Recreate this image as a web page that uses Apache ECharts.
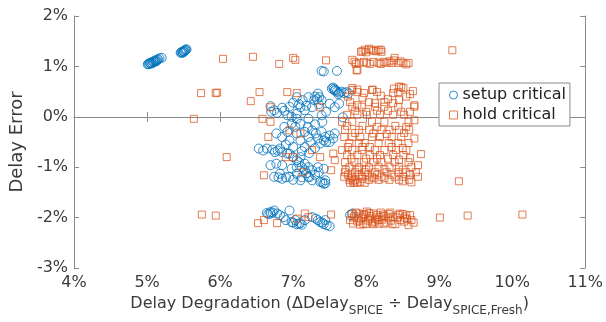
<!DOCTYPE html>
<html>
<head>
<meta charset="utf-8">
<script src="https://cdn.jsdelivr.net/npm/echarts@6/dist/echarts.min.js"></script>
<style>
  html, body { margin: 0; padding: 0; background: #fff; }
  #chart { width: 606px; height: 322px; }
</style>
</head>
<body>
<div id="chart"></div>
<script>
// [delay degradation %, delay error %]
const setupCritical = [
  [5.01, 1.04], [5.03, 1.05], [5.04, 1.07], [5.06, 1.08], [5.07, 1.06], [5.09, 1.1],
  [5.11, 1.12], [5.13, 1.11], [5.15, 1.14], [5.17, 1.16], [5.2, 1.17], [5.1, 1.09],
  [5.02, 1.05], [5.05, 1.06], [5.08, 1.09], [5.12, 1.1], [5.14, 1.13],
  [5.46, 1.27], [5.48, 1.29], [5.5, 1.3], [5.52, 1.32], [5.54, 1.34], [5.49, 1.27], [5.51, 1.31],
  [5.47, 1.28], [5.5, 1.29], [5.53, 1.33],
  [7.39, 0.91], [7.42, 0.9], [7.6, 0.91],
  [7.53, 0.56], [7.56, 0.55], [7.58, 0.53], [7.6, 0.5], [7.63, 0.48], [7.66, 0.5],
  [7.7, 0.47], [7.73, 0.49], [7.55, 0.58], [7.62, 0.45], [7.76, 0.47], [7.57, 0.52],
  [6.69, 0.21], [6.74, 0.13], [6.85, 0.18], [6.92, 0.03], [7.05, 0.39], [7.13, 0.33],
  [7.21, 0.39], [7.29, 0.33], [7.34, 0.46], [7.36, 0.39], [7.39, 0.33], [7.26, 0.19],
  [7.16, 0.13], [7.1, 0.19], [7.05, 0.06], [6.98, 0.0], [7.21, -0.04], [7.39, 0.03],
  [7.57, 0.19], [7.68, -0.01], [7.63, 0.26], [7.5, 0.26],
  [6.7, 0.1], [6.78, 0.08], [6.88, 0.12], [6.95, 0.2], [7.0, 0.28], [7.08, 0.25],
  [7.18, 0.22], [7.3, 0.4], [7.33, 0.35], [7.35, 0.25], [7.45, 0.1], [7.4, -0.1],
  [7.3, -0.15], [7.2, -0.2], [6.88, -0.2],
  [6.98, -0.14], [7.03, -0.2], [6.92, -0.3], [6.85, -0.4], [6.77, -0.33], [7.05, -0.33],
  [7.16, -0.3], [7.26, -0.27], [7.31, -0.33], [7.39, -0.3], [7.44, -0.4], [7.5, -0.37],
  [7.42, -0.47], [7.34, -0.43], [7.21, -0.4], [7.1, -0.47], [6.95, -0.47], [7.55, -0.43],
  [7.57, -0.33], [7.24, -0.5], [7.37, -0.53], [7.16, -0.6], [7.05, -0.04], [7.1, -0.14],
  [6.9, -0.55], [7.0, -0.6], [7.12, -0.68], [7.22, -0.72], [7.3, -0.62], [7.45, -0.5], [7.5, -0.5],
  [6.53, -0.63], [6.59, -0.67], [6.64, -0.63], [6.79, -0.67], [6.82, -0.63],
  [6.75, -0.7], [6.72, -0.65], [6.85, -0.7],
  [6.95, -0.73], [7.0, -0.8], [7.05, -0.86], [7.1, -0.8], [7.16, -0.93], [7.21, -1.0],
  [7.26, -1.06], [7.34, -1.0], [7.42, -1.03], [6.69, -0.96], [6.77, -0.93], [6.85, -0.96],
  [6.82, -1.13], [6.74, -1.19], [6.85, -1.23], [6.95, -1.19], [7.05, -1.13], [7.1, -1.26],
  [7.21, -1.19], [7.26, -1.26], [7.37, -1.29], [7.42, -1.33], [7.44, -1.26], [7.16, -1.06],
  [6.98, -1.03], [7.05, -1.0], [6.92, -0.73],
  [7.08, -0.9], [7.12, -1.0], [7.18, -1.12], [7.22, -1.2], [7.3, -1.15], [7.35, -1.1],
  [6.9, -1.2], [6.8, -1.2], [7.0, -1.25], [7.12, -1.2], [7.4, -1.3], [7.44, -1.32],
  [6.64, -1.91], [6.69, -1.92], [6.74, -1.86], [6.82, -1.95], [6.87, -1.99], [6.95, -1.86],
  [6.98, -2.09], [7.05, -2.13], [7.1, -2.11], [7.16, -2.05], [7.03, -2.05], [7.31, -2.02],
  [7.37, -2.09], [7.42, -2.13], [7.5, -2.17], [7.44, -2.05], [7.26, -1.99], [6.69, -1.89],
  [6.78, -1.92], [7.78, -1.95], [7.81, -1.92],
  [6.66, -1.93], [6.72, -1.9], [6.9, -2.05], [7.0, -2.1], [7.08, -2.12], [7.12, -2.14],
  [7.34, -2.05], [7.4, -2.1], [7.46, -2.15]
];

const holdCritical = [
  [5.74, 0.47], [5.94, 0.47], [5.96, 0.48], [5.64, -0.04], [6.09, -0.8], [6.04, 1.15],
  [6.45, 1.19], [6.42, 0.31], [6.54, 0.49], [6.81, 1.05], [7.0, 1.17], [7.03, 1.13],
  [7.45, 1.12], [7.87, 0.92], [9.18, 1.32], [9.27, -1.28], [5.75, -1.94], [5.94, -1.96],
  [9.01, -2.0], [9.39, -1.96], [10.14, -1.94], [6.52, -2.11], [6.6, -2.05], [6.78, -2.11],
  [7.16, -1.92], [7.05, -2.02], [7.21, -1.99], [7.52, -1.94],
  [6.58, -0.04], [6.69, -0.1], [6.66, -0.4], [6.6, -1.16], [6.69, 0.19], [6.92, 0.49],
  [7.05, 0.47], [6.95, -0.27], [6.9, -0.8], [7.0, -0.8], [7.37, -0.8], [7.13, -1.1],
  [7.37, 0.19], [7.55, -0.73], [7.57, -0.86], [7.52, -1.06], [7.26, -0.66], [7.1, -0.33],
  [7.93, 1.29], [7.98, 1.33], [8.04, 1.35], [8.1, 1.31], [8.17, 1.33], [8.21, 1.29],
  [7.95, 1.3], [8.0, 1.28], [8.07, 1.33], [8.14, 1.3], [8.2, 1.33],
  [7.84, 1.09], [7.9, 1.07], [7.97, 1.09], [8.01, 1.07], [8.1, 1.09], [8.17, 1.07],
  [8.24, 1.09], [8.28, 1.07], [8.35, 1.07], [8.39, 1.17], [8.44, 1.07], [8.51, 1.07],
  [8.58, 1.07], [7.88, 0.93], [7.81, 1.13],
  [7.86, 1.05], [8.05, 1.05], [8.2, 1.05], [8.32, 1.1], [8.47, 1.1], [8.55, 1.04], [8.38, 1.12],
  [7.81, 0.57], [7.88, 0.49], [7.97, 0.47], [8.08, 0.53], [8.15, 0.49], [8.37, 0.47],
  [8.44, 0.49], [8.48, 0.59], [8.64, 0.51], [7.78, 0.29], [7.88, 0.23], [8.04, 0.29],
  [8.12, 0.27], [8.25, 0.29], [8.37, 0.27], [8.45, 0.33], [8.66, 0.23],
  [7.81, 0.53], [7.88, 0.54], [8.09, 0.54], [8.38, 0.56], [8.45, 0.6], [8.51, 0.57],
  [7.75, 0.4], [7.95, 0.38], [8.2, 0.42], [8.3, 0.35], [8.55, 0.4], [8.6, 0.45],
  [7.81, 0.2], [7.94, 0.2], [8.12, 0.2], [8.25, 0.2], [8.44, 0.2], [8.66, 0.2],
  [7.85, 0.12], [8.0, 0.1], [8.15, 0.12], [8.3, 0.12], [8.48, 0.1], [8.6, 0.1],
  [7.74, 0.04], [7.88, 0.04], [8.01, 0.04], [8.19, 0.04], [8.37, 0.04], [8.52, 0.04],
  [7.67, -0.1], [7.81, -0.1], [8.08, -0.1], [8.25, -0.1], [8.58, -0.1], [8.66, -0.07],
  [7.74, -0.18], [7.95, -0.18], [8.15, -0.2], [8.4, -0.18], [8.55, -0.2],
  [7.71, -0.26], [7.9, -0.26], [8.04, -0.26], [8.21, -0.26], [8.32, -0.26], [8.45, -0.26], [8.59, -0.26],
  [7.85, -0.32], [8.1, -0.33], [8.28, -0.34], [8.52, -0.32],
  [7.7, -0.4], [7.81, -0.4], [7.92, -0.4], [8.08, -0.4], [8.19, -0.4], [8.35, -0.4], [8.48, -0.4], [8.66, -0.43],
  [7.77, -0.52], [7.9, -0.52], [7.98, -0.52], [8.17, -0.52], [8.31, -0.52], [8.44, -0.52], [8.58, -0.52],
  [7.75, -0.6], [7.95, -0.6], [8.05, -0.6], [8.35, -0.6], [8.5, -0.62],
  [7.67, -0.66], [7.81, -0.66], [7.94, -0.66], [8.12, -0.66], [8.25, -0.66], [8.41, -0.66], [8.55, -0.66], [8.75, -0.74],
  [7.74, -0.76], [7.88, -0.76], [8.05, -0.76], [8.19, -0.76], [8.37, -0.76], [8.51, -0.76],
  [7.8, -0.83], [8.0, -0.83], [8.15, -0.83], [8.3, -0.83], [8.45, -0.85], [8.6, -0.82],
  [7.71, -0.9], [7.84, -0.9], [7.97, -0.9], [8.1, -0.9], [8.21, -0.9], [8.39, -0.9], [8.58, -0.9], [8.71, -0.96],
  [7.77, -1.0], [7.9, -1.0], [8.04, -1.0], [8.17, -1.0], [8.32, -1.0], [8.45, -1.0], [8.62, -1.0],
  [7.72, -1.05], [7.88, -1.05], [8.0, -1.05], [8.25, -1.04], [8.5, -1.05],
  [7.71, -1.1], [7.85, -1.1], [7.98, -1.1], [8.12, -1.1], [8.28, -1.1], [8.44, -1.1], [8.55, -1.1], [8.68, -1.1],
  [7.75, -1.15], [7.9, -1.15], [8.02, -1.15], [8.15, -1.15], [8.35, -1.15], [8.6, -1.15],
  [7.7, -1.19], [7.81, -1.19], [7.94, -1.19], [8.08, -1.19], [8.21, -1.19], [8.39, -1.19], [8.51, -1.19], [8.71, -1.19],
  [7.8, -1.22], [7.95, -1.23], [8.1, -1.22], [8.25, -1.22], [8.5, -1.28], [8.62, -1.3],
  [7.77, -1.25], [7.85, -1.25], [8.04, -1.25], [8.17, -1.25], [8.32, -1.25], [8.45, -1.25], [8.59, -1.25],
  [7.78, -1.31], [7.84, -1.31], [7.88, -1.31], [7.98, -1.31], [7.82, -1.28], [7.92, -1.29],
  [7.8, -1.93], [7.84, -1.97], [7.88, -2.08], [7.9, -1.92], [7.93, -2.02], [7.96, -2.12],
  [7.98, -1.95], [8.01, -1.88], [8.03, -2.06], [8.06, -1.97], [8.08, -2.1], [8.1, -1.92],
  [8.13, -2.02], [8.15, -1.95], [8.17, -2.12], [8.2, -1.9], [8.22, -2.04], [8.25, -1.97],
  [8.28, -2.1], [8.31, -1.93], [8.34, -2.06], [8.37, -1.98], [8.4, -2.13], [8.44, -1.95],
  [8.47, -2.05], [8.5, -1.93], [8.52, -2.08], [8.55, -1.96], [8.58, -2.15], [8.6, -1.95],
  [8.65, -2.1], [7.82, -2.12], [7.86, -1.9], [7.95, -1.98], [8.0, -2.13], [8.12, -2.08],
  [8.18, -1.99], [8.24, -2.12], [8.33, -1.9], [8.42, -2.0], [8.56, -2.03], [7.78, -2.05],
  [7.83, -2.0], [7.9, -2.06], [7.97, -1.93], [8.05, -2.02], [8.1, -2.13], [8.16, -2.05],
  [8.23, -1.94], [8.3, -2.0], [8.36, -2.13], [8.46, -1.92], [8.53, -2.0], [8.62, -2.05],
  [7.92, -2.14], [8.04, -1.91]
];

const xRange = [4, 11];
const yRange = [-3, 2];

const FONT = 'DejaVu Sans';
const axisGrey = '#8a8a8a';
const labelColor = '#3a3a3a';

const chart = echarts.init(document.getElementById('chart'));

// 坐标轴公共部分：MATLAB风格的框和向内的刻度
function boxAxis(extra) {
  return Object.assign({
    type: 'value',
    interval: 1,
    axisLine: { show: true, lineStyle: { color: axisGrey, width: 1 } },
    axisTick: { show: true, inside: true, length: 5, lineStyle: { color: axisGrey } },
    splitLine: { show: false },
    axisLabel: {
      fontFamily: FONT, fontSize: 16, color: labelColor,
      formatter: '{value}%'
    }
  }, extra);
}

const option = {
  animation: false,
  backgroundColor: '#fff',
  grid: { left: 67, right: 19, top: 16, bottom: 54 },
  xAxis: [
    boxAxis({
      min: xRange[0], max: xRange[1], position: 'bottom',
      axisLabel: { fontFamily: FONT, fontSize: 16, color: labelColor, margin: 7, formatter: '{value}%' },
      name: '{a|Delay Degradation (\u0394Delay}{s|SPICE}{a| \u00f7 Delay}{s|SPICE,Fresh}{a|)}',
      nameLocation: 'middle',
      nameGap: 22,
      nameTextStyle: {
        fontFamily: FONT, color: labelColor,
        rich: {
          a: { fontFamily: FONT, fontSize: 16, color: labelColor, verticalAlign: 'top', lineHeight: 18 },
          s: { fontFamily: FONT, fontSize: 12, color: labelColor, verticalAlign: 'top', lineHeight: 14, padding: [9, 0, 0, 0] }
        }
      }
    }),
    boxAxis({ min: xRange[0], max: xRange[1], position: 'top', axisLabel: { show: false } })
  ],
  yAxis: [
    boxAxis({
      min: yRange[0], max: yRange[1], position: 'left',
      axisLabel: { fontFamily: FONT, fontSize: 16, color: labelColor, margin: 6, formatter: '{value}%' },
      name: 'Delay Error',
      nameLocation: 'middle',
      nameGap: 41,
      nameTextStyle: { fontFamily: FONT, fontSize: 18, color: labelColor }
    }),
    boxAxis({ min: yRange[0], max: yRange[1], position: 'right', axisLabel: { show: false } })
  ],
  legend: {
    orient: 'vertical',
    left: 439,
    top: 83,
    padding: [3, 4, 2, 10],
    itemWidth: 8,
    itemHeight: 8,
    itemGap: 2,
    itemTextGap: 11,
    backgroundColor: '#fff',
    borderColor: '#8a8a8a',
    borderWidth: 1,
    textStyle: { fontFamily: FONT, fontSize: 16, color: '#222', lineHeight: 18 },
    data: [
      { name: 'setup critical', icon: 'circle', itemStyle: { color: 'rgba(0,0,0,0)', borderColor: '#0072BD', borderWidth: 1 } },
      { name: 'hold critical', icon: 'rect', itemStyle: { color: 'rgba(0,0,0,0)', borderColor: '#D95319', borderWidth: 1 } }
    ]
  },
  series: [
    {
      name: 'setup critical',
      type: 'scatter',
      symbol: 'circle',
      symbolSize: 9,
      data: setupCritical,
      itemStyle: { color: 'rgba(0,0,0,0)', borderColor: '#0072BD', borderWidth: 1, opacity: 0.8 }
    },
    {
      name: 'hold critical',
      type: 'scatter',
      symbol: 'rect',
      symbolSize: 7,
      data: holdCritical,
      itemStyle: { color: 'rgba(0,0,0,0)', borderColor: '#D95319', borderWidth: 1, opacity: 0.75 }
    }
  ]
};

chart.setOption(option);
</script>
</body>
</html>
